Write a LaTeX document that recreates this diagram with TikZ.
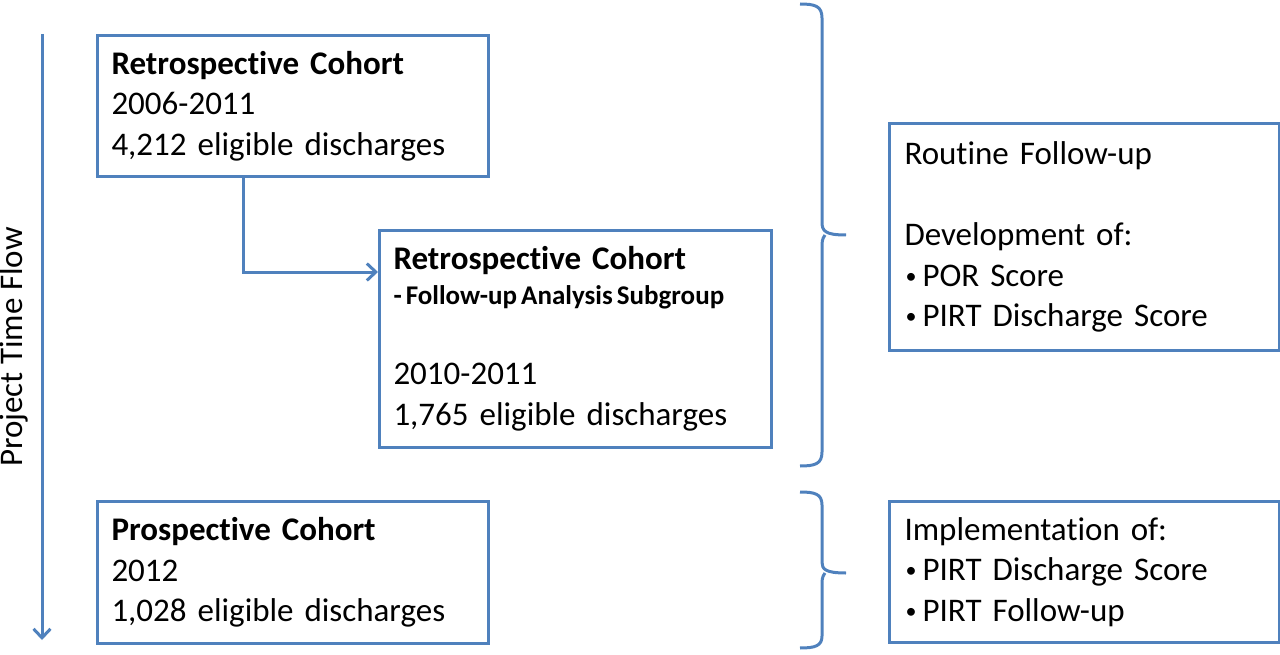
\documentclass[tikz,border=0pt]{standalone}
\usepackage{fontspec}
\setmainfont{Carlito}[Ligatures=NoCommon]
\usetikzlibrary{arrows.meta}
\definecolor{ablue}{RGB}{79,129,189}
\newcommand{\bul}{\makebox[18pt][l]{\hspace{1pt}\raisebox{3pt}{\fontsize{22}{22}\selectfont •}}}
\begin{document}
\begin{tikzpicture}[x=1pt,y=-1pt,
  line width=3pt,
  box/.style={draw=ablue, line width=3pt, anchor=north west, align=left, inner xsep=14pt, inner ysep=0pt,
     font=\fontsize{33}{40.5}\selectfont, text=black},
  link/.style={draw=ablue, line width=3pt, -{Straight Barb[length=9pt,width=17pt,line width=3pt]}},
  bracestyle/.style={draw=ablue, line width=3pt, line join=round}
]
\useasboundingbox (0,0) rectangle (1280,655);

\node[box, minimum width=391pt, minimum height=141pt, text width=363pt] (r1) at (96,34)
  {\textbf{Retrospective Cohort}\\ 2006-2011\\ 4,212 eligible discharges};

\node[box, minimum width=392pt, minimum height=217pt, text width=364pt] (r2) at (378,229)
  {\textbf{Retrospective Cohort}\\[-6pt]
   {\fontsize{27}{30}\selectfont\bfseries\spaceskip=0.15em - Follow-up Analysis Subgroup}\\[40pt]
   2010-2011\\ 1,765 eligible discharges};

\node[box, minimum width=391pt, minimum height=142pt, text width=363pt] (p1) at (96,500)
  {\textbf{Prospective Cohort}\\ 2012\\ 1,028 eligible discharges};

\node[box, inner xsep=15pt, minimum width=390pt, minimum height=227pt, text width=360pt] (d1) at (888,122)
  {Routine Follow-up\\[40.5pt]
   Development of:\\
   \bul POR Score\\
   \bul PIRT Discharge Score};

\node[box, inner xsep=15pt, minimum width=390pt, minimum height=141pt, text width=360pt] (d2) at (888,500)
  {Implementation of:\\
   \bul PIRT Discharge Score\\
   \bul PIRT Follow-up};

% time flow arrow
\coordinate (tA) at (42,34);
\coordinate (tB) at (42,640);
\draw[link] (tA) -- (tB);
\node[rotate=90, font=\fontsize{33}{40}\selectfont, inner sep=0pt] (tf) at (14,347) {Project Time Flow};

% connector r1 -> r2
\draw[link] ([xshift=147pt]r1.south west) |- ([yshift=-43pt]r2.north west);

% braces
\draw[bracestyle] (800,4) .. controls (815,4) and (822,6) .. (822,18)
  -- (822,222) .. controls (822,231) and (825,235) .. (846,235);
\draw[bracestyle] (825,235) .. controls (822,239) and (822,242) .. (822,248)
  -- (822,452) .. controls (822,464) and (815,466) .. (800,466);

\draw[bracestyle] (800,492) .. controls (815,492) and (822,494) .. (822,505)
  -- (822,562) .. controls (822,569) and (825,573) .. (846,573);
\draw[bracestyle] (825,573) .. controls (822,577) and (822,580) .. (822,585)
  -- (822,636) .. controls (822,646) and (815,648) .. (800,648);
\end{tikzpicture}
\end{document}
